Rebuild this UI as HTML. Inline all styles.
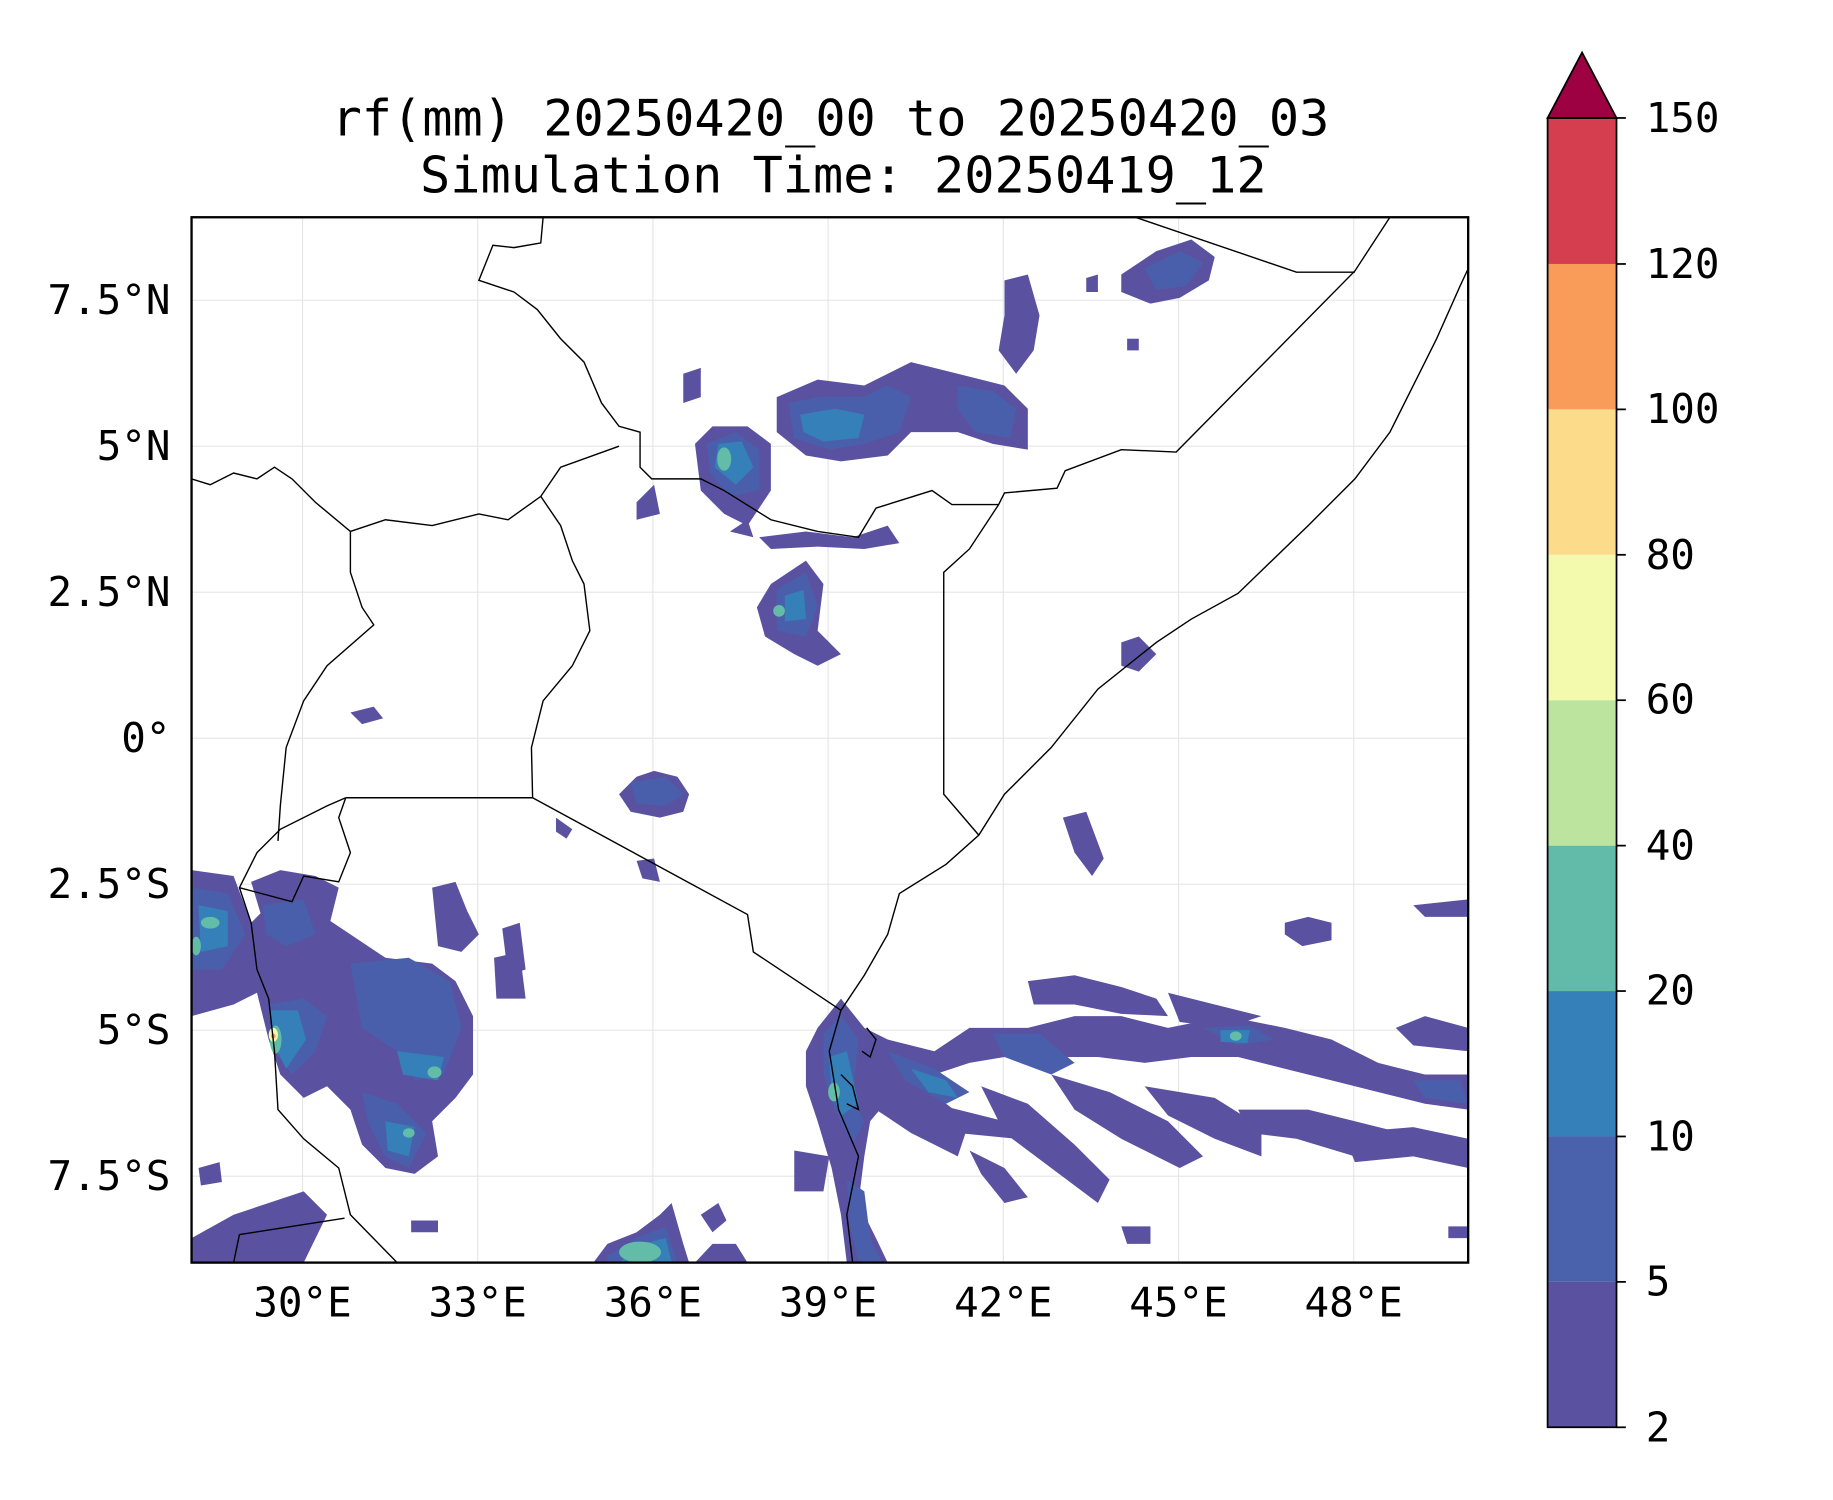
<!DOCTYPE html>
<html><head><meta charset="utf-8"><style>
html,body{margin:0;padding:0;background:#fff;}
svg{display:block;}
text{font-family:"DejaVu Sans Mono","Liberation Mono",monospace;fill:#000;}
</style></head><body>
<svg width="1833" height="1500" viewBox="0 0 1833 1500" xmlns="http://www.w3.org/2000/svg">
<g transform="translate(0,0) scale(1.168)">
<!-- title -->
<text x="711" y="116" font-size="43" text-anchor="middle">rf(mm) 20250420_00 to 20250420_03</text>
<text x="722" y="165" font-size="43" text-anchor="middle">Simulation Time: 20250419_12</text>

<defs><clipPath id="c"><rect x="164" y="186" width="1093" height="895"/></clipPath></defs>
<!-- grid -->
<g stroke="#e6e6e6" stroke-width="1">
<line x1="259" y1="186" x2="259" y2="1081"/><line x1="409" y1="186" x2="409" y2="1081"/>
<line x1="559" y1="186" x2="559" y2="1081"/><line x1="709" y1="186" x2="709" y2="1081"/>
<line x1="859" y1="186" x2="859" y2="1081"/><line x1="1009" y1="186" x2="1009" y2="1081"/>
<line x1="1159" y1="186" x2="1159" y2="1081"/>
<line x1="164" y1="257" x2="1257" y2="257"/><line x1="164" y1="382" x2="1257" y2="382"/>
<line x1="164" y1="507" x2="1257" y2="507"/><line x1="164" y1="632" x2="1257" y2="632"/>
<line x1="164" y1="757" x2="1257" y2="757"/><line x1="164" y1="882" x2="1257" y2="882"/>
<line x1="164" y1="1007" x2="1257" y2="1007"/>
</g>

<g clip-path="url(#c)">
<g fill="#5a52a0">
<path d="M595,380 L610,365 L640,365 L660,380 L660,420 L640,450 L620,440 L600,420Z"/>
<path d="M665,340 L700,325 L740,330 L780,310 L820,320 L860,330 L880,350 L880,385 L850,380 L820,370 L780,370 L760,390 L720,395 L690,390 L665,370Z"/>
<path d="M650,460 L690,455 L730,460 L760,450 L770,465 L740,470 L700,468 L660,470Z"/>
<path d="M660,500 L690,480 L705,500 L700,540 L720,560 L700,570 L680,560 L655,545 L648,520Z"/>
<path d="M860,240 L880,235 L890,270 L885,300 L870,320 L855,300 L860,270Z"/>
<path d="M960,235 L990,215 L1020,205 L1040,220 L1035,240 L1010,255 L985,260 L960,250Z"/>
<path d="M530,680 L545,665 L560,660 L580,665 L590,680 L585,695 L565,700 L540,695Z"/>
<path d="M164,745 L200,750 L215,790 L225,780 L270,780 L300,800 L330,820 L370,825 L390,840 L405,870 L405,920 L390,940 L370,960 L375,990 L355,1005 L330,1000 L310,980 L300,950 L280,930 L260,940 L240,920 L230,890 L220,850 L200,860 L164,870Z"/>
<path d="M370,760 L390,755 L400,780 L410,800 L395,815 L375,810Z"/>
<path d="M215,755 L240,745 L270,750 L290,760 L280,800 L260,810 L230,805Z"/>
<path d="M164,1060 L200,1040 L230,1030 L260,1020 L280,1040 L260,1081 L164,1081Z"/>
<path d="M508,1081 L520,1065 L545,1055 L565,1040 L575,1030 L585,1065 L590,1081Z"/>
<path d="M595,1081 L610,1065 L630,1065 L640,1081Z"/>
<path d="M700,880 L720,855 L740,880 L760,890 L800,900 L830,880 L880,880 L920,870 L960,870 L1000,880 L1050,870 L1100,880 L1140,890 L1180,910 L1220,920 L1257,920 L1257,950 L1220,945 L1180,935 L1140,925 L1100,915 L1060,905 L1020,905 L980,910 L940,905 L900,905 L860,905 L830,910 L800,920 L770,930 L745,960 L740,990 L735,1030 L750,1060 L760,1081 L725,1081 L720,1040 L712,1000 L700,960 L690,930 L690,900Z"/>
<path d="M740,910 L790,930 L830,960 L820,990 L780,970 L750,950Z"/>
<path d="M760,935 L800,945 L860,960 L870,975 L820,970Z"/>
<path d="M840,930 L880,945 L920,980 L950,1010 L940,1030 L900,1000 L860,970Z"/>
<path d="M900,920 L950,935 L1000,960 L1030,990 L1010,1000 L960,975 L920,950Z"/>
<path d="M980,930 L1040,940 L1080,965 L1080,990 L1040,975 L1000,955Z"/>
<path d="M1060,950 L1120,950 L1160,960 L1200,970 L1200,985 L1160,990 L1110,975 L1070,970Z"/>
<path d="M1150,970 L1210,965 L1257,975 L1257,1000 L1210,990 L1160,995Z"/>
<path d="M680,985 L710,990 L705,1020 L680,1020Z"/>
<path d="M880,840 L920,835 L960,845 L990,855 L1000,870 L960,868 L920,860 L885,860Z"/>
<path d="M1000,850 L1040,860 L1080,870 L1050,880 L1010,875Z"/>
<path d="M1100,790 L1120,785 L1140,790 L1140,805 L1115,810 L1100,800Z"/>
<path d="M910,700 L930,695 L945,735 L935,750 L920,730Z"/>
<path d="M300,610 L320,605 L328,615 L310,620Z"/>
<path d="M960,550 L975,545 L990,560 L975,575 L960,570Z"/>
<path d="M1210,775 L1257,770 L1257,785 L1220,785Z"/>
<path d="M545,430 L560,415 L565,440 L545,445Z"/>
<path d="M625,455 L640,445 L645,460Z"/>
<path d="M830,985 L860,1000 L880,1025 L860,1030 L840,1005Z"/>
<path d="M960,1050 L985,1050 L985,1065 L965,1065Z"/>
<path d="M352,1045 L375,1045 L375,1055 L352,1055Z"/>
<path d="M476,700 L490,710 L485,718 L476,712Z"/>
<path d="M545,737 L560,735 L565,755 L550,752Z"/>
<path d="M600,1040 L615,1030 L622,1045 L610,1055Z"/>
<path d="M170,1000 L188,995 L190,1012 L172,1015Z"/>
<path d="M930,238 L940,235 L940,250 L930,250Z"/>
<path d="M965,290 L975,290 L975,300 L965,300Z"/>
<path d="M585,320 L600,315 L600,340 L585,345Z"/>
<path d="M430,795 L445,790 L450,830 L435,835Z"/>
<path d="M423,820 L445,815 L450,855 L425,855Z"/>
<path d="M1195,880 L1220,870 L1257,880 L1257,900 L1210,895Z"/>
<path d="M1240,1050 L1257,1050 L1257,1060 L1240,1060Z"/>
</g>
<g fill="#4a5fab">
<path d="M605,380 L630,370 L650,385 L650,420 L625,425 L608,405Z"/>
<path d="M675,345 L700,340 L740,340 L760,330 L780,340 L770,370 L740,380 L710,385 L680,375Z"/>
<path d="M820,330 L850,335 L870,350 L865,375 L835,370 L820,350Z"/>
<path d="M665,505 L690,490 L700,520 L690,545 L665,540Z"/>
<path d="M980,230 L1010,215 L1030,225 L1015,245 L990,248Z"/>
<path d="M540,670 L570,665 L585,680 L570,690 L545,688Z"/>
<path d="M164,760 L195,765 L210,800 L190,830 L164,830Z"/>
<path d="M230,860 L260,855 L280,870 L270,900 L250,920 L235,900Z"/>
<path d="M300,825 L350,820 L385,840 L395,880 L380,920 L355,925 L340,900 L310,880Z"/>
<path d="M310,935 L340,945 L365,970 L350,1000 L330,990 L315,960Z"/>
<path d="M520,1075 L545,1060 L570,1050 L580,1081 L520,1081Z"/>
<path d="M705,885 L720,870 L735,890 L730,940 L740,960 L730,980 L715,950 L705,920Z"/>
<path d="M760,900 L800,915 L830,935 L810,945 L775,925Z"/>
<path d="M850,885 L890,885 L920,910 L900,920 L860,905Z"/>
<path d="M1030,880 L1070,878 L1090,890 L1060,895Z"/>
<path d="M725,1010 L740,1020 L745,1060 L755,1081 L735,1081 L728,1050Z"/>
<path d="M225,775 L260,770 L270,800 L245,810 L228,800Z"/>
<path d="M1210,925 L1250,925 L1257,945 L1220,940Z"/>
</g>
<g fill="#3680b9">
<path d="M615,380 L635,378 L645,400 L630,415 L612,400Z"/>
<path d="M685,355 L715,350 L740,355 L735,375 L705,378 L688,370Z"/>
<path d="M672,510 L688,505 L690,530 L672,532Z"/>
<path d="M170,775 L195,780 L195,810 L172,815Z"/>
<path d="M230,865 L255,865 L262,890 L245,915 L235,895Z"/>
<path d="M340,900 L380,905 L375,925 L345,920Z"/>
<path d="M330,960 L355,965 L350,990 L332,985Z"/>
<path d="M530,1081 L550,1065 L570,1060 L575,1081Z"/>
<path d="M710,905 L725,900 L735,945 L720,955 L712,935Z"/>
<path d="M780,915 L810,925 L820,940 L795,935Z"/>
<path d="M1045,882 L1070,882 L1068,893 L1045,892Z"/>
</g>
<g fill="#63bca8">
<ellipse cx="620" cy="393" rx="6" ry="10"/>
<ellipse cx="667" cy="523" rx="5" ry="5"/>
<ellipse cx="180" cy="790" rx="8" ry="5"/>
<ellipse cx="168" cy="810" rx="4" ry="8"/>
<ellipse cx="236" cy="890" rx="5" ry="12"/>
<ellipse cx="372" cy="918" rx="6" ry="5"/>
<ellipse cx="350" cy="970" rx="5" ry="4"/>
<ellipse cx="548" cy="1072" rx="18" ry="9"/>
<ellipse cx="714" cy="935" rx="5" ry="8"/>
<ellipse cx="1058" cy="887" rx="5" ry="4"/>
</g>
<ellipse cx="234" cy="886" rx="4" ry="6" fill="#f2f9ad"/>
<ellipse cx="234" cy="887" rx="2" ry="2" fill="#f99c5a"/>
</g>

<g clip-path="url(#c)" fill="none" stroke="#000" stroke-width="1.2">
<polyline points="465,186 463,208 440,212 422,210 410,240 440,250 460,265 480,290 500,310 515,345 530,365 548,370 548,400 558,410 600,410 620,420 660,445 700,455 735,460 750,435 798,420 815,432 855,432 860,422 905,418 912,403 960,385 1007,387 1160,232 1190,186"/>
<polyline points="855,432 830,470 808,490 808,680 838,715"/>
<polyline points="972,186 1110,233 1160,233"/>
<polyline points="1257,230 1250,245 1230,290 1215,320 1190,370 1160,410 1120,450 1060,508 1020,530 990,550 940,590 900,640 860,680 838,715 810,740 770,765 760,800 740,835 720,865 710,900 718,950 735,990 725,1040 730,1081"/>
<polyline points="164,410 180,415 200,405 220,410 235,400 250,410 270,430 300,455 300,490 310,520 320,535 280,570 260,600 245,640 240,690 238,720"/>
<polyline points="300,455 330,445 370,450 410,440 435,445 463,425 480,400 530,382"/>
<polyline points="463,425 480,450 490,480 500,500 505,540 490,570 465,600 455,640 456,683 296,683"/>
<polyline points="456,683 640,783 645,815 720,865"/>
<polyline points="296,683 280,690 240,710 220,730 205,760 215,790 220,830 230,855 235,900 238,950 260,975 290,1000 300,1040 340,1081"/>
<polyline points="205,760 250,772 260,750 290,755 300,730 290,700 296,683"/>
<polyline points="205,1057 295,1043"/>
<polyline points="205,1057 200,1081"/>
<polyline points="742,880 750,890 745,905 738,900Z"/>
<polyline points="720,920 730,930 735,950 725,945Z"/>
</g>
<rect x="164" y="186" width="1093" height="895" fill="none" stroke="#000" stroke-width="2"/>

<g font-size="35">
<g text-anchor="middle">
<text x="259" y="1127">30°E</text><text x="409" y="1127">33°E</text><text x="559" y="1127">36°E</text>
<text x="709" y="1127">39°E</text><text x="859" y="1127">42°E</text><text x="1009" y="1127">45°E</text>
<text x="1159" y="1127">48°E</text>
</g>
<g text-anchor="end">
<text x="146" y="269">7.5°N</text><text x="146" y="394">5°N</text><text x="146" y="519">2.5°N</text>
<text x="146" y="644">0°</text><text x="146" y="769">2.5°S</text><text x="146" y="894">5°S</text>
<text x="146" y="1019">7.5°S</text>
</g>
</g>

<g>
<rect x="1325" y="1097.5" width="59" height="124.5" fill="#5a52a0"/>
<rect x="1325" y="973" width="59" height="124.5" fill="#4a62ab"/>
<rect x="1325" y="848.5" width="59" height="124.5" fill="#3680b9"/>
<rect x="1325" y="724" width="59" height="124.5" fill="#62bba8"/>
<rect x="1325" y="599.5" width="59" height="124.5" fill="#bde49e"/>
<rect x="1325" y="475" width="59" height="124.5" fill="#f3f9ad"/>
<rect x="1325" y="350.5" width="59" height="124.5" fill="#fcdc8b"/>
<rect x="1325" y="226" width="59" height="124.5" fill="#f99c5a"/>
<rect x="1325" y="101" width="59" height="125" fill="#d53e4f"/>
<polygon points="1325,101 1354.5,45 1384,101" fill="#9e0142" stroke="#000" stroke-width="1.5"/>
<polygon points="1325,101 1325,1222 1384,1222 1384,101" fill="none" stroke="#000" stroke-width="1.5"/>
<g stroke="#000" stroke-width="1.5">
<line x1="1384" y1="101" x2="1392" y2="101"/><line x1="1384" y1="226" x2="1392" y2="226"/>
<line x1="1384" y1="350.5" x2="1392" y2="350.5"/><line x1="1384" y1="475" x2="1392" y2="475"/>
<line x1="1384" y1="599.5" x2="1392" y2="599.5"/><line x1="1384" y1="724" x2="1392" y2="724"/>
<line x1="1384" y1="848.5" x2="1392" y2="848.5"/><line x1="1384" y1="973" x2="1392" y2="973"/>
<line x1="1384" y1="1097.5" x2="1392" y2="1097.5"/><line x1="1384" y1="1222" x2="1392" y2="1222"/>
</g>
<g font-size="35">
<text x="1409" y="113">150</text><text x="1409" y="238">120</text><text x="1409" y="362">100</text>
<text x="1409" y="487">80</text><text x="1409" y="611">60</text><text x="1409" y="736">40</text>
<text x="1409" y="860">20</text><text x="1409" y="985">10</text><text x="1409" y="1109">5</text>
<text x="1409" y="1234">2</text>
</g>
</g>
</g>
</svg>
</body></html>
